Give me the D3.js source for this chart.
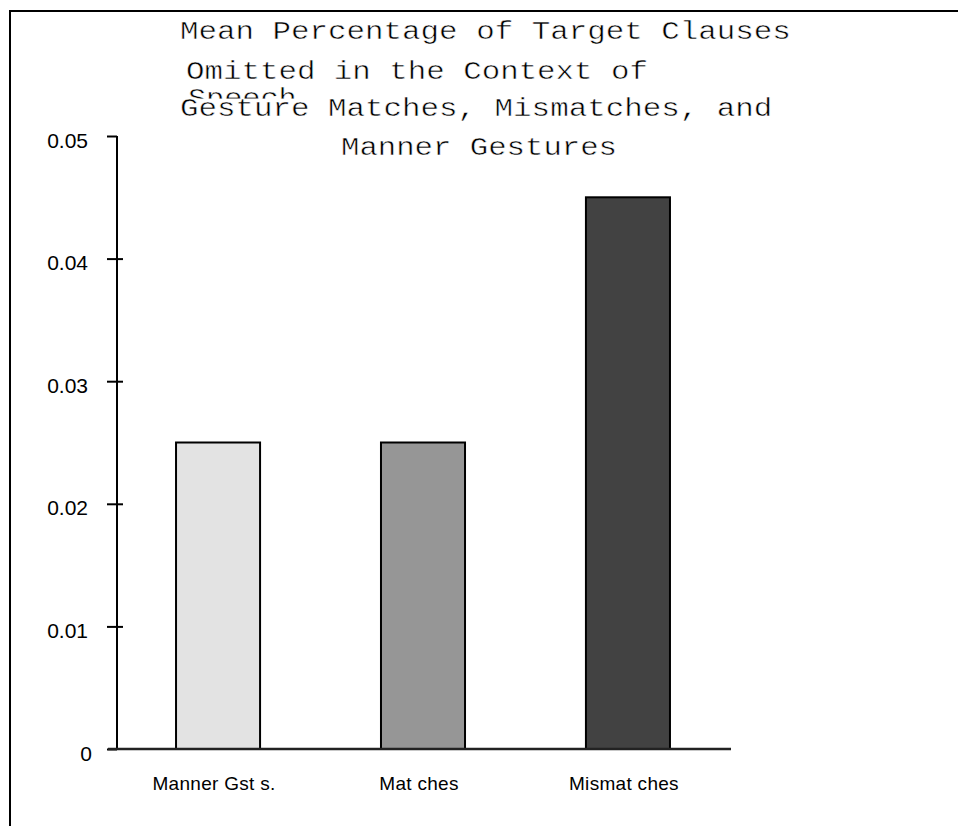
<!DOCTYPE html>
<html>
<head>
<meta charset="utf-8">
<script src="https://cdn.jsdelivr.net/npm/d3@7"></script>
<style>
  html, body { margin: 0; padding: 0; background: #fff; }
  svg { display: block; }
</style>
</head>
<body>
<svg id="chart" width="958" height="826"></svg>
<script>
// ---- data ----
const categories = ["Manner Gst s.", "Mat ches", "Mismat ches"];
const values = [0.025, 0.025, 0.045];
const barColors = ["#e3e3e3", "#969696", "#424242"];
const yTicks = [0, 0.01, 0.02, 0.03, 0.04, 0.05];
const yTickLabels = ["0", "0.01", "0.02", "0.03", "0.04", "0.05"];
const titleLines = ["Mean Percentage of Target Clauses", "Omitted in the Context of", "Gesture Matches, Mismatches, and", "Manner Gestures"];
const titleOverflow = "Speech";

// ---- layout ----
const svg = d3.select("#chart");

// frame lines (top & left)
svg.append("line").attr("x1", 9).attr("x2", 958).attr("y1", 11).attr("y2", 11)
  .attr("stroke", "#000").attr("stroke-width", 2);
svg.append("line").attr("x1", 10).attr("x2", 10).attr("y1", 10).attr("y2", 826)
  .attr("stroke", "#000").attr("stroke-width", 2);

const x = d3.scaleBand().domain(categories).range([117, 729])
  .paddingInner(0.59).paddingOuter(0.288);
const y = d3.scaleLinear().domain([0, 0.05]).range([749, 136]);

// bars
svg.append("g").selectAll("rect").data(categories).join("rect")
  .attr("x", d => x(d))
  .attr("y", (d, i) => y(values[i]))
  .attr("width", x.bandwidth())
  .attr("height", (d, i) => y(0) - y(values[i]))
  .attr("fill", (d, i) => barColors[i])
  .attr("stroke", "#000")
  .attr("stroke-width", 2);

// y axis
const yAxis = d3.axisLeft(y).tickValues(yTicks)
  .tickFormat((d, i) => yTickLabels[i]).tickSize(10).tickSizeOuter(0);
const yg = svg.append("g").attr("transform", "translate(117,0)").call(yAxis);
yg.select(".domain").attr("stroke", "#000").attr("stroke-width", 2)
  .attr("d", `M0,${y(0.05)}V${y(0)}`);
yg.selectAll(".tick line").attr("stroke", "#000").attr("stroke-width", 2)
  .attr("x1", d => d === 0.05 || d === 0 ? 0 : 6).attr("x2", -10);
yg.selectAll(".tick text")
  .attr("x", d => d === 0 ? -25 : -29).attr("dy", "0.62em").attr("y", -2)
  .attr("font-family", "'Liberation Sans', Arial, sans-serif")
  .attr("font-size", 21).attr("fill", "#000");

// x baseline
svg.append("line").attr("x1", 108).attr("x2", 731).attr("y1", y(0)).attr("y2", y(0))
  .attr("stroke", "#222").attr("stroke-width", 2.5);

// x labels
svg.append("g").selectAll("text").data(categories).join("text")
  .attr("x", d => x(d) + x.bandwidth() / 2 - 4)
  .attr("y", 790)
  .attr("text-anchor", "middle")
  .attr("font-family", "'Liberation Sans', Arial, sans-serif")
  .attr("font-size", 19)
  .attr("letter-spacing", "0.3px")
  .attr("fill", "#000")
  .text(d => d);

// title
const charW = 18.6;
const titleX = [180, 186, 180, 341];
const titleY = [39, 79, 116, 155];
const tg = svg.append("g")
  .attr("font-family", "'Liberation Mono', 'Courier New', monospace")
  .attr("font-size", 26)
  .attr("fill", "#000")
  .attr("stroke", "#fff")
  .attr("stroke-width", 0.5);
svg.append("clipPath").attr("id", "speechClip")
  .append("rect").attr("x", 0).attr("y", 0).attr("width", 958).attr("height", 98.5);
tg.append("text").attr("x", 188).attr("y", 106)
  .attr("textLength", titleOverflow.length * charW - 3)
  .attr("lengthAdjust", "spacingAndGlyphs")
  .attr("clip-path", "url(#speechClip)").text(titleOverflow);
tg.selectAll("text.tl").data(titleLines).join("text").attr("class", "tl")
  .attr("x", (d, i) => titleX[i]).attr("y", (d, i) => titleY[i])
  .attr("textLength", d => d.length * charW - 3)
  .attr("lengthAdjust", "spacingAndGlyphs")
  .text(d => d);
</script>
</body>
</html>
